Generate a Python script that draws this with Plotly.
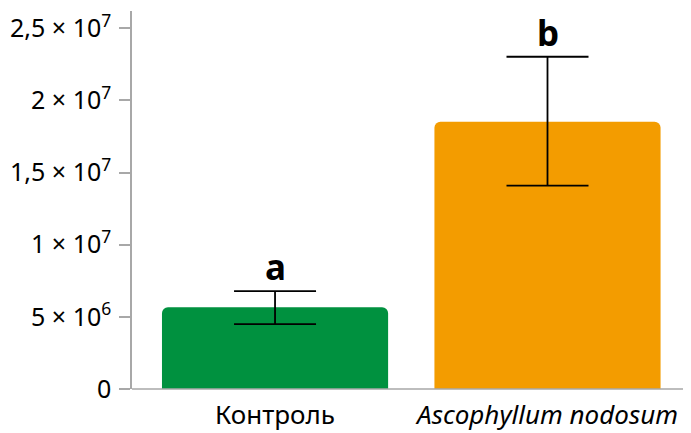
import plotly.graph_objects as go

categories = ["Контроль", "<i>Ascophyllum nodosum</i>"]
values = [5.66e6, 1.853e7]
err_plus = [1.13e6, 4.5e6]
err_minus = [1.16e6, 4.44e6]
letters = ["a", "b"]
bar_colors = ["#00913F", "#F39C00"]

tick_vals = [0, 5e6, 1e7, 1.5e7, 2e7, 2.5e7]
tick_text = ["0", "5 × 10<sup>6</sup>", "1 × 10<sup>7</sup>", "1,5 × 10<sup>7</sup>",
             "2 × 10<sup>7</sup>", "2,5 × 10<sup>7</sup>"]

FONT = "Noto Sans"

fig = go.Figure()
fig.add_trace(go.Bar(
    x=[0, 1], y=values,
    marker=dict(color=bar_colors, line=dict(width=0)),
    width=0.83,
    error_y=dict(type="data", symmetric=False, array=err_plus, arrayminus=err_minus,
                 color="black", thickness=1.8, width=41),
))

for i, (v, e, t) in enumerate(zip(values, err_plus, letters)):
    fig.add_annotation(x=i, y=v + e, text="<b>" + t + "</b>", showarrow=False,
                       yanchor="bottom", yshift=-1,
                       font=dict(family=FONT, size=35, color="black"))

# right frame line with rounded bottom corner
dx = 6 / 558
dy = 6 / 378
fig.add_shape(type="path", xref="paper", yref="paper",
              path=f"M 0,0 L {1-dx},0 Q 1,0 1,{dy}",
              line=dict(color="#a8a8a8", width=1.5), layer="above")
fig.add_shape(type="line", xref="paper", yref="paper",
              x0=1, x1=1, y0=dy, y1=0.979,
              line=dict(color="#d4d4d4", width=1.5), layer="above")

fig.update_layout(
    width=691, height=433,
    margin=dict(l=124, r=9, t=3, b=52),
    plot_bgcolor="white", paper_bgcolor="white",
    barcornerradius=6,
    showlegend=False,
    font=dict(family=FONT, color="black"),
    xaxis=dict(range=[-0.525, 1.523], tickvals=[0, 1], ticktext=categories,
               showline=False, ticks="", showgrid=False, zeroline=False,
               automargin=False, ticklabelstandoff=8,
               tickfont=dict(size=26, family=FONT, color="black")),
    yaxis=dict(range=[0, 2.62e7], tickvals=tick_vals, ticktext=tick_text,
               showline=True, linecolor="#a8a8a8", linewidth=1.5,
               ticks="outside", ticklen=11, tickcolor="#a8a8a8", tickwidth=1.5,
               showgrid=False, zeroline=False, automargin=False,
               ticklabeloverflow="allow", ticklabelstandoff=3,
               tickfont=dict(size=25, family=FONT, color="black")),
)

fig.write_html("out.html")
